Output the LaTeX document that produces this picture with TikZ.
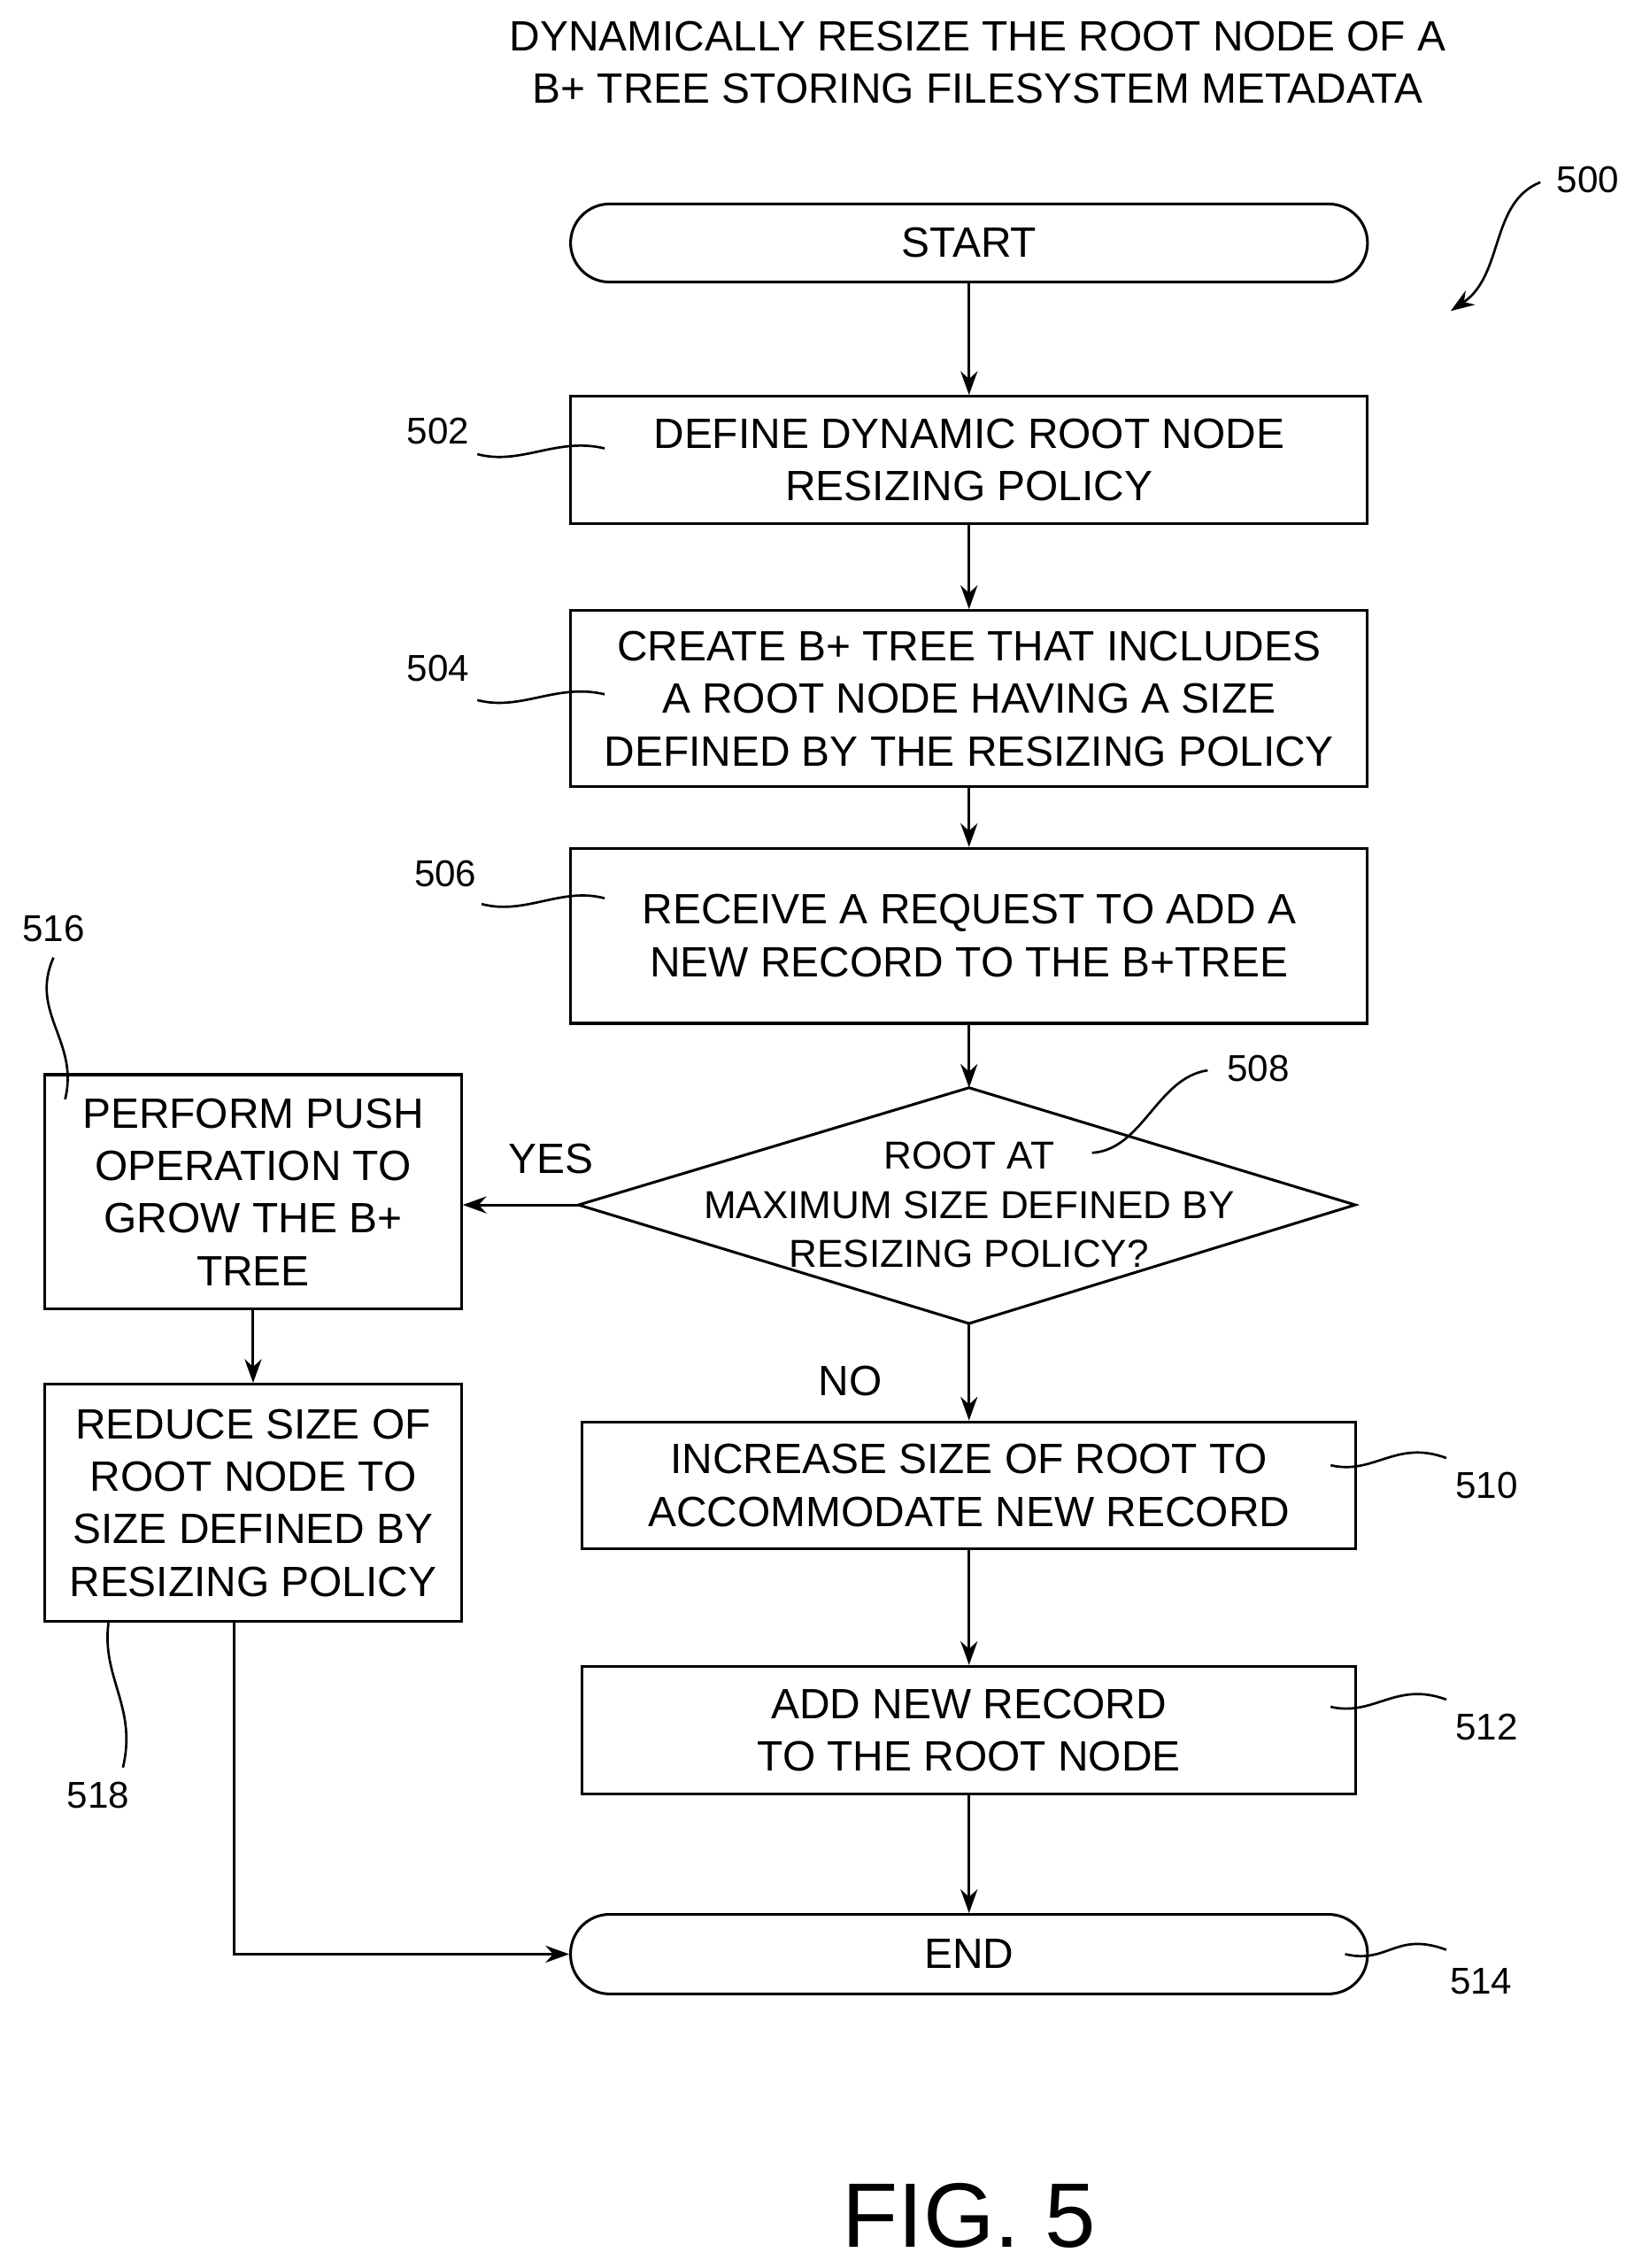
\documentclass[tikz,border=0pt]{standalone}
\usepackage{fontspec}
\setmainfont{Liberation Sans}
\usetikzlibrary{shapes.geometric,arrows.meta}
\begin{document}
\begin{tikzpicture}[x=0.03cm,y=-0.03cm,
  every node/.style={font=\fontsize{25}{31}\selectfont,align=center},
  box/.style={draw,line width=1.6pt,inner sep=0pt},
  arr/.style={line width=1.6pt,-{Stealth[length=14pt,width=10pt]}},
  lead/.style={line width=1.4pt},
  lab/.style={font=\fontsize{22}{26}\selectfont}]
\useasboundingbox (0,0) rectangle (1135,1568);
\node (title) at (676,43) {DYNAMICALLY RESIZE THE ROOT NODE OF A\\B+ TREE STORING FILESYSTEM METADATA};
\node[box,rounded corners=27*0.03cm,minimum width=551*0.03cm,minimum height=54*0.03cm] (start) at (670,168) {START};
\node[box,minimum width=551*0.03cm,minimum height=88*0.03cm] (b502) at (670,318) {DEFINE DYNAMIC ROOT NODE\\RESIZING POLICY};
\node[box,minimum width=551*0.03cm,minimum height=122*0.03cm] (b504) at (670,483) {CREATE B+ TREE THAT INCLUDES\\A ROOT NODE HAVING A SIZE\\DEFINED BY THE RESIZING POLICY};
\node[box,minimum width=551*0.03cm,minimum height=121*0.03cm] (b506) at (670,647) {RECEIVE A REQUEST TO ADD A\\NEW RECORD TO THE B+TREE};
\coordinate (dt) at (670,752); \coordinate (db) at (670,915);
\coordinate (dl) at (400,833); \coordinate (dr) at (937,833);
\draw[line width=1.6pt] (dt)--(dr)--(db)--(dl)--cycle;
\node[font=\fontsize{23}{29}\selectfont] (dtext) at (670,833) {ROOT AT\\MAXIMUM SIZE DEFINED BY\\RESIZING POLICY?};
\node[box,minimum width=288*0.03cm,minimum height=162*0.03cm] (b516) at (175,824) {PERFORM PUSH\\OPERATION TO\\GROW THE B+\\TREE};
\node[box,minimum width=288*0.03cm,minimum height=164*0.03cm] (b518) at (175,1039) {REDUCE SIZE OF\\ROOT NODE TO\\SIZE DEFINED BY\\RESIZING POLICY};
\node[box,minimum width=535*0.03cm,minimum height=88*0.03cm] (b510) at (670,1027) {INCREASE SIZE OF ROOT TO\\ACCOMMODATE NEW RECORD};
\node[box,minimum width=535*0.03cm,minimum height=88*0.03cm] (b512) at (670,1196) {ADD NEW RECORD\\TO THE ROOT NODE};
\node[box,rounded corners=27*0.03cm,minimum width=551*0.03cm,minimum height=55*0.03cm] (end) at (670,1351) {END};
\node (yes) at (381,801) {YES};
\node (no) at (588,955) {NO};
\node[font=\fontsize{54}{60}\selectfont] (fig) at (670,1532) {FIG. 5};
% connectors
\draw[arr] (start)--(b502);
\draw[arr] (b502)--(b504);
\draw[arr] (b504)--(b506);
\draw[arr] (b506)--(dt);
\draw[arr] (dl)--(b516.east|-dl);
\draw[arr] (db)--(b510);
\draw[arr] (b516)--(b518);
\draw[arr] (b510)--(b512);
\draw[arr] (b512)--(end);
\coordinate (corner) at (162,1351);
\draw[arr] (b518.south-|corner)--(corner)--(end.west);
% labels
\node[lab] (l500) at (1098,124) {500};
\node[lab] (l502) at (303,298) {502};
\node[lab] (l504) at (303,462) {504};
\node[lab] (l506) at (308,604) {506};
\node[lab] (l508) at (870,739) {508};
\node[lab] (l516) at (37,642) {516};
\node[lab] (l518) at (68,1241) {518};
\node[lab] (l510) at (1028,1027) {510};
\node[lab] (l512) at (1028,1194) {512};
\node[lab] (l514) at (1024,1370) {514};
\draw[arr,line width=1.4pt] (1065,126) .. controls (1030,140) and (1040,190) .. (1003,215);
\draw[lead] (330,314) .. controls (360,322) and (385,302) .. (418,310);
\draw[lead] (330,484) .. controls (360,492) and (385,472) .. (418,480);
\draw[lead] (333,625) .. controls (363,633) and (388,613) .. (418,621);
\draw[lead] (835,740) .. controls (800,745) and (790,795) .. (755,797);
\draw[lead] (37,662) .. controls (20,700) and (55,720) .. (45,760);
\draw[lead] (75,1122) .. controls (70,1160) and (95,1180) .. (85,1222);
\draw[lead] (920,1013) .. controls (950,1020) and (965,995) .. (1000,1008);
\draw[lead] (920,1180) .. controls (950,1187) and (965,1162) .. (1000,1175);
\draw[lead] (930,1351) .. controls (960,1358) and (965,1335) .. (1000,1348);
\end{tikzpicture}
\end{document}
